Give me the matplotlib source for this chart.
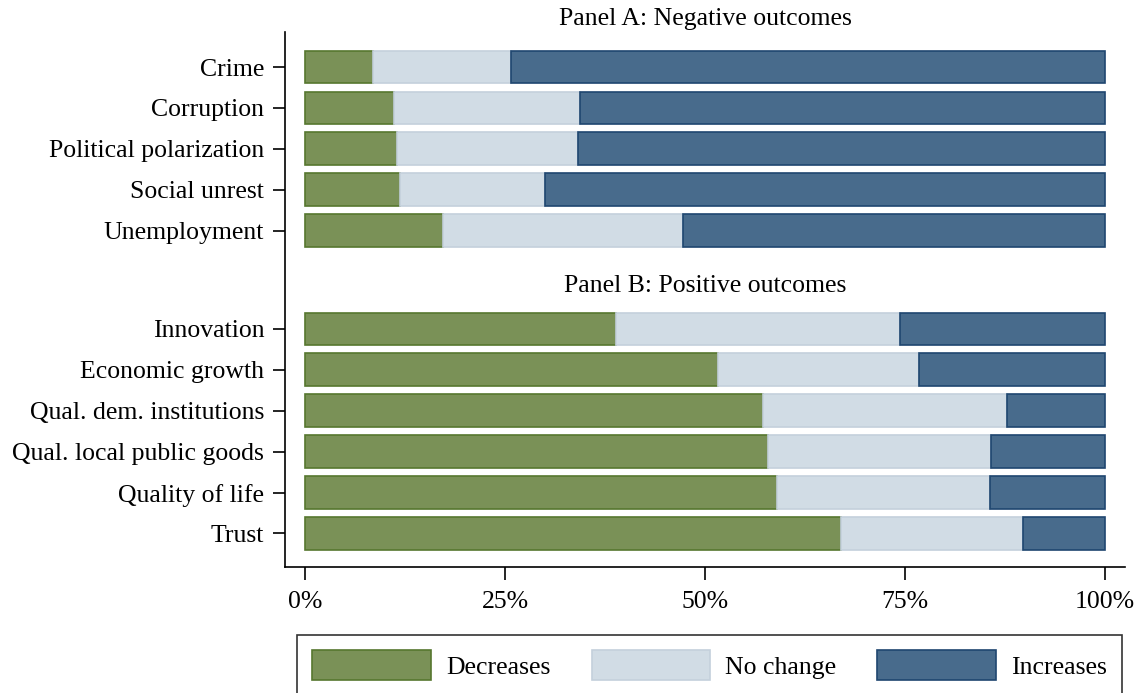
import numpy as np
import matplotlib
matplotlib.use("Agg")
import matplotlib.pyplot as plt
from matplotlib.patches import Patch

plt.rcParams['font.family'] = ['Liberation Serif', 'DejaVu Serif']

# Panel A: negative outcomes
labels_a = ["Crime", "Corruption", "Political polarization", "Social unrest", "Unemployment"]
dec_a = [8.5, 11.1, 11.5, 11.9, 17.2]
same_a = [17.3, 23.3, 22.6, 18.1, 30.1]
inc_a = [74.2, 65.6, 65.9, 70.0, 52.7]

# Panel B: positive outcomes
labels_b = ["Innovation", "Economic growth", "Qual. dem. institutions",
            "Qual. local public goods", "Quality of life", "Trust"]
dec_b = [38.9, 51.6, 57.3, 57.9, 59.0, 67.0]
same_b = [35.5, 25.1, 30.4, 27.8, 26.6, 22.8]
inc_b = [25.6, 23.3, 12.3, 14.3, 14.4, 10.2]

series_names = ["Decreases", "No change", "Increases"]
face = ["#7a9157", "#d1dce5", "#486b8c"]
edge = ["#56772f", "#c4d0dc", "#1f4670"]

labels = labels_a + labels_b
dec = np.array(dec_a + dec_b)
same = np.array(same_a + same_b)
inc = np.array(inc_a + inc_b)

gap = 2.4
ypos = np.concatenate([np.arange(len(labels_a)),
                       len(labels_a) - 1 + gap + np.arange(len(labels_b))])

fs = 18.5

fig = plt.figure(figsize=(11.43, 6.93), dpi=100)
ax = fig.add_axes([285 / 1143, 1 - 567 / 693, 840 / 1143, 535 / 693])

left = np.zeros(len(labels))
for vals, fc, ec, name in zip([dec, same, inc], face, edge, series_names):
    ax.barh(ypos, vals, left=left, height=0.8, color=fc, edgecolor=ec,
            linewidth=1.2, label=name)
    left = left + vals

ax.set_xlim(-2.5, 102.5)
ax.set_ylim(12.22, -0.856)
ax.set_yticks(ypos)
ax.set_yticklabels(labels, fontsize=fs)
ax.set_xticks([0, 25, 50, 75, 100])
ax.set_xticklabels(["0%", "25%", "50%", "75%", "100%"], fontsize=fs)
ax.tick_params(axis='y', length=9, width=1.2, pad=6)
ax.tick_params(axis='x', length=9, width=1.2, pad=8)
for s in ["top", "right"]:
    ax.spines[s].set_visible(False)
for s in ["left", "bottom"]:
    ax.spines[s].set_linewidth(1.2)

ax.text(50, -1.18, "Panel A: Negative outcomes", ha='center', va='center',
        fontsize=fs, clip_on=False)
ax.text(50, len(labels_a) - 1 + gap / 2 + 0.15, "Panel B: Positive outcomes",
        ha='center', va='center', fontsize=fs)

handles = [Patch(facecolor=fc, edgecolor=ec, linewidth=1.2) for fc, ec in zip(face, edge)]
leg = fig.legend(handles, series_names, loc='upper left', ncol=3,
                 bbox_to_anchor=(297 / 1143, 1 - 635 / 693), fontsize=fs,
                 frameon=True, fancybox=False, handlelength=4.6, handleheight=1.4,
                 columnspacing=1.6, handletextpad=0.6, borderpad=0.6,
                 borderaxespad=0)
leg.get_frame().set_edgecolor("black")
leg.get_frame().set_linewidth(1.2)

fig.savefig("out.png", dpi=100)
